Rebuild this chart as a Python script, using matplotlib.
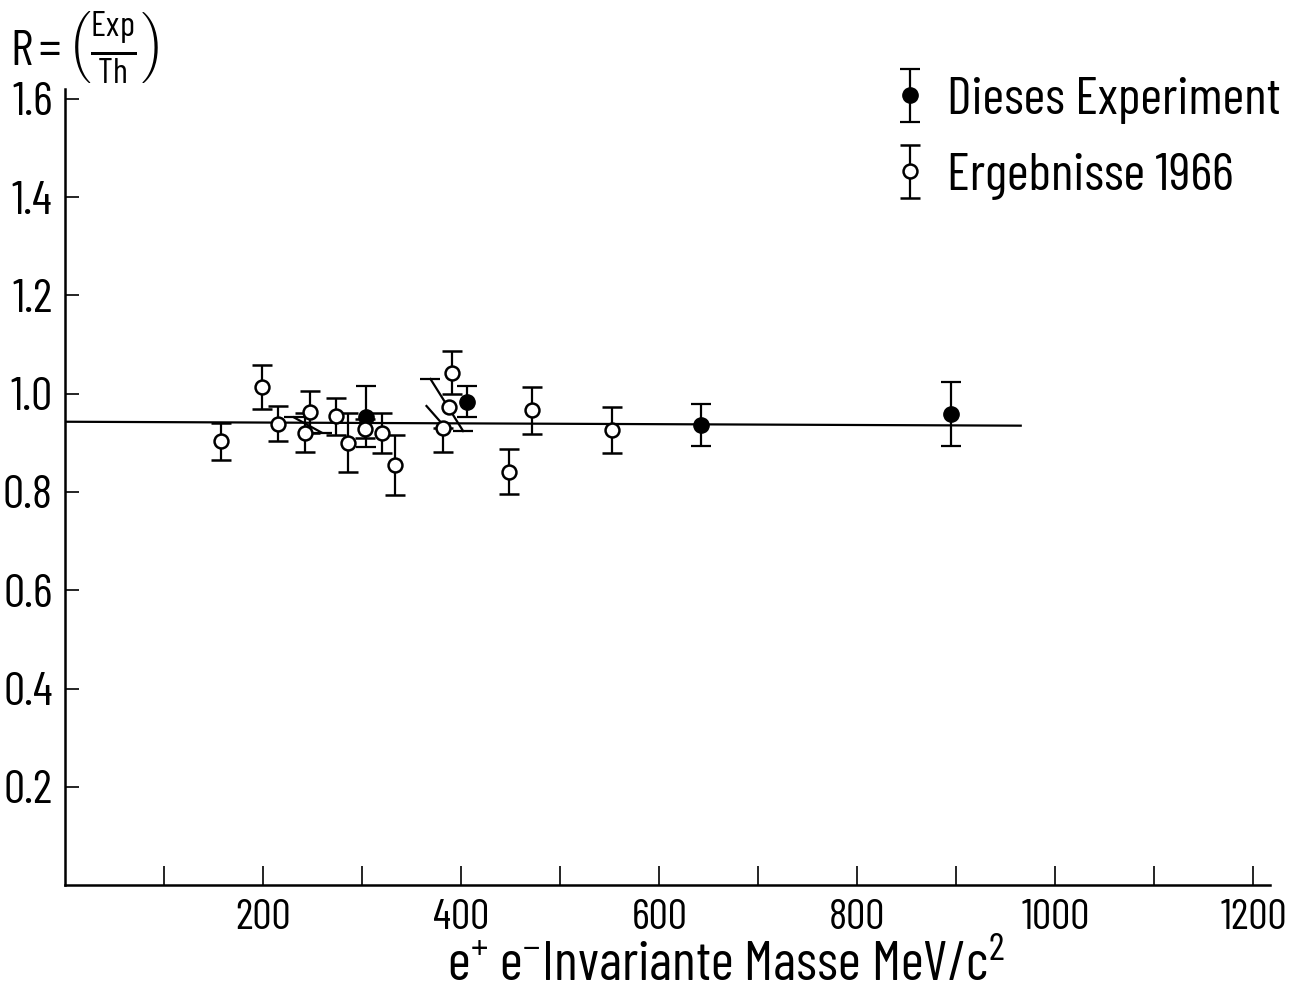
import matplotlib
matplotlib.use("Agg")
import matplotlib.pyplot as plt
from matplotlib.ticker import FixedLocator
from matplotlib import font_manager

names = {f.name for f in font_manager.fontManager.ttflist}
candidates = ["Barlow Condensed", "Roboto Condensed", "Archivo Narrow", "PT Sans Narrow",
              "Saira Condensed", "Encode Sans Condensed", "Liberation Sans Narrow", "DejaVu Sans"]
FONT = next(c for c in candidates if c in names)
plt.rcParams['font.family'] = [FONT, 'DejaVu Sans']
plt.rcParams['mathtext.fontset'] = 'custom'
plt.rcParams['mathtext.rm'] = FONT
plt.rcParams['mathtext.it'] = FONT
plt.rcParams['mathtext.bf'] = FONT

# Ergebnisse 1966 (open circles)
old_x = [158, 199, 215, 242, 247, 274, 286, 303, 320, 333, 382, 388, 391, 448, 472, 552]
old_y = [0.903, 1.014, 0.939, 0.921, 0.963, 0.954, 0.900, 0.929, 0.920, 0.854, 0.930, 0.973, 1.043, 0.841, 0.966, 0.926]
old_elo = [0.037, 0.045, 0.036, 0.039, 0.043, 0.038, 0.060, 0.020, 0.041, 0.061, 0.049, 0.0, 0.043, 0.046, 0.047, 0.047]
old_ehi = [0.037, 0.045, 0.036, 0.039, 0.043, 0.038, 0.060, 0.020, 0.041, 0.061, 0.0, 0.0, 0.043, 0.046, 0.047, 0.047]

# Dieses Experiment (filled circles)
new_x = [304, 406, 642, 895]
new_y = [0.953, 0.984, 0.937, 0.958]
new_e = [0.062, 0.032, 0.043, 0.065]

# slanted (hand-drawn) error bars: start and end points
slant_x0 = [231, 369, 365]
slant_y0 = [0.952, 1.030, 0.975]
slant_x1 = [259, 402, 379]
slant_y1 = [0.921, 0.924, 0.943]
slant_caps = [True, True, False]

# fitted horizontal line
fit_x = [0, 965]
fit_y = [0.943, 0.935]

y_ticks = [0.2, 0.4, 0.6, 0.8, 1.0, 1.2, 1.4, 1.6]
y_labels = ["0.2", "0.4", "0.6", "0.8", "1.0", "1.2", "1.4", "1.6"]
x_ticks = [200, 400, 600, 800, 1000, 1200]
x_labels = ["200", "400", "600", "800", "1000", "1200"]
x_minor = [100, 300, 500, 700, 900, 1100]

fig = plt.figure(figsize=(13.03, 9.90), dpi=100)
ax = fig.add_axes([0.0499, 0.106, 0.925, 0.804])

ax.plot(fit_x, fit_y, color='black', lw=1.6, zorder=1)

ekw = dict(ecolor='black', elinewidth=1.6, capsize=7, capthick=1.6)
h_new = ax.errorbar(new_x, new_y, yerr=new_e, fmt='o', color='black', ms=11,
                    mfc='black', mec='black', zorder=3, **ekw)

okw = dict(fmt='o', color='black', ms=10, mfc='white', mec='black', mew=1.8)
# open circles with vertical error bars
idx = [i for i in range(len(old_x)) if old_elo[i] > 0 or old_ehi[i] > 0]
h_old = ax.errorbar([old_x[i] for i in idx], [old_y[i] for i in idx],
                    yerr=[[old_elo[i] for i in idx], [old_ehi[i] for i in idx]],
                    zorder=3, **okw, **ekw)
# open circles whose error bar is drawn slanted
rest = [i for i in range(len(old_x)) if i not in idx]
ax.plot([old_x[i] for i in rest], [old_y[i] for i in rest], ls='none', marker='o',
        color='black', ms=10, mfc='white', mec='black', mew=1.8, zorder=4)

for x0, y0, x1, y1, cap in zip(slant_x0, slant_y0, slant_x1, slant_y1, slant_caps):
    ax.plot([x0, x1], [y0, y1], color='black', lw=1.6, zorder=2)
    if cap:
        ax.plot([x0, x1], [y0, y1], ls='none', marker='_', ms=14, mew=1.6,
                color='black', zorder=2)

ax.set_xlim(0, 1217)
ax.set_ylim(0, 1.62)
for s in ['top', 'right']:
    ax.spines[s].set_visible(False)
for s in ['left', 'bottom']:
    ax.spines[s].set_linewidth(1.8)

ax.set_yticks(y_ticks)
ax.set_yticklabels(y_labels)
ax.set_xticks(x_ticks)
ax.set_xticklabels(x_labels)
ax.xaxis.set_minor_locator(FixedLocator(x_minor))
ax.tick_params(axis='both', which='both', direction='in', width=1.2, color='black')
ax.tick_params(axis='y', length=10, pad=9, labelsize=34)
ax.tick_params(axis='x', which='both', length=14, pad=10, labelsize=31)

ax.set_xlabel(r"e$^{+}$ e$^{-}$Invariante Masse MeV/c$^{2}$", fontsize=40)
ax.xaxis.set_label_coords(0.548, -0.069)
ax.xaxis.label.set_va('top')

fig.text(0.008, 0.99, r"$R{=}\left(\frac{Exp}{Th}\right)$", fontsize=36,
         ha='left', va='top')

leg = ax.legend([h_new, h_old], ["Dieses Experiment", "Ergebnisse 1966"],
                loc='upper right', bbox_to_anchor=(1.048, 1.075), frameon=False,
                fontsize=38, handlelength=0.5, handletextpad=0.45, labelspacing=0.55)

fig.savefig("out.png", dpi=100)
